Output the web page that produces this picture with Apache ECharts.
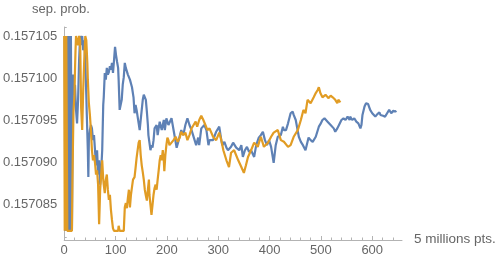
<!DOCTYPE html>
<html>
<head>
<meta charset="utf-8">
<script src="https://cdn.jsdelivr.net/npm/echarts@6/dist/echarts.min.js"></script>
<style>
html,body{margin:0;padding:0;background:#fff;}
#c{width:500px;height:264px;}
</style>
</head>
<body>
<div id="c"></div>
<script>
// Tick labels
const xTicks = [0, 100, 200, 300, 400, 500, 600];
const xMinorStep = 20;
const yTicks = [0.157085, 0.157090, 0.157095, 0.157100, 0.157105];
const yTickLabels = ['0.157085', '0.157090', '0.157095', '0.157100', '0.157105'];
const yMinorStep = 0.000001;
const xTitle = '5 millions pts.';
const yTitle = 'sep. prob.';

// Series 1 (blue): [x, value]
const blue = [[1,0.1571050],[2,0.1570818],[3,0.1571050],[5,0.1570818],[6,0.1571050],[8,0.1570818],[10,0.1571050],[12,0.1570818],[13,0.1571050],[15,0.1570818],[17,0.1571004],[19,0.1570980],[21,0.1570992],[23,0.1570962],[25,0.1570946],[27,0.1570974],[29,0.1571021],[31,0.1571050],[33,0.1571039],[35,0.1571050],[37,0.1571033],[39,0.1571045],[41,0.1571021],[43,0.1570980],[44,0.1570956],[46,0.1570914],[47,0.1570882],[48,0.1570926],[50,0.1570938],[52,0.1570944],[54,0.1570940],[56,0.1570926],[58,0.1570932],[60,0.1570914],[62,0.1570896],[64,0.1570914],[66,0.1570885],[68,0.1570902],[70,0.1570873],[72,0.1570890],[74,0.1570914],[76,0.1570968],[77,0.1570977],[79,0.1571006],[81,0.1570998],[83,0.1571012],[85,0.1571004],[87,0.1571007],[89,0.1571014],[91,0.1571010],[93,0.1571018],[95,0.1571006],[97,0.1571021],[99,0.1571037],[101,0.1571027],[103,0.1571019],[105,0.1571012],[106,0.1570998],[108,0.1570962],[110,0.1570964],[112,0.1570974],[114,0.1570992],[116,0.1571001],[118,0.1571018],[120,0.1571012],[122,0.1571010],[124,0.1571004],[126,0.1571001],[128,0.1570998],[132,0.1570989],[135,0.1570977],[137,0.1570958],[139,0.1570968],[141,0.1570962],[145,0.1570946],[147,0.1570938],[149,0.1570950],[151,0.1570962],[153,0.1570974],[155,0.1570980],[157,0.1570982],[159,0.1570974],[161,0.1570960],[163,0.1570944],[164,0.1570932],[166,0.1570923],[168,0.1570914],[170,0.1570920],[172,0.1570917],[174,0.1570926],[176,0.1570940],[180,0.1570944],[182,0.1570932],[186,0.1570948],[190,0.1570938],[194,0.1570950],[196,0.1570938],[199,0.1570952],[203,0.1570944],[209,0.1570952],[213,0.1570938],[219,0.1570917],[223,0.1570926],[228,0.1570938],[232,0.1570932],[236,0.1570944],[240,0.1570952],[244,0.1570944],[248,0.1570938],[254,0.1570926],[257,0.1570920],[261,0.1570929],[263,0.1570920],[267,0.1570940],[273,0.1570944],[277,0.1570938],[281,0.1570920],[283,0.1570926],[286,0.1570924],[290,0.1570926],[296,0.1570936],[302,0.1570942],[306,0.1570926],[308,0.1570920],[312,0.1570924],[316,0.1570917],[319,0.1570914],[325,0.1570918],[329,0.1570923],[335,0.1570917],[341,0.1570914],[345,0.1570920],[348,0.1570906],[352,0.1570914],[356,0.1570918],[360,0.1570912],[364,0.1570914],[370,0.1570906],[374,0.1570920],[379,0.1570929],[383,0.1570932],[387,0.1570936],[391,0.1570926],[395,0.1570920],[399,0.1570926],[403,0.1570918],[408,0.1570899],[412,0.1570920],[416,0.1570930],[422,0.1570932],[426,0.1570942],[428,0.1570938],[432,0.1570938],[436,0.1570946],[441,0.1570958],[445,0.1570960],[447,0.1570956],[451,0.1570950],[457,0.1570930],[461,0.1570924],[465,0.1570920],[470,0.1570914],[474,0.1570924],[476,0.1570929],[480,0.1570926],[484,0.1570924],[490,0.1570930],[496,0.1570942],[499,0.1570945],[503,0.1570950],[507,0.1570952],[509,0.1570951],[513,0.1570948],[519,0.1570944],[525,0.1570940],[528,0.1570936],[532,0.1570940],[536,0.1570945],[540,0.1570950],[544,0.1570952],[548,0.1570950],[552,0.1570954],[556,0.1570950],[557,0.1570954],[561,0.1570950],[565,0.1570952],[569,0.1570948],[573,0.1570946],[577,0.1570940],[579,0.1570944],[581,0.1570956],[585,0.1570966],[588,0.1570970],[592,0.1570969],[596,0.1570962],[600,0.1570958],[606,0.1570954],[610,0.1570957],[614,0.1570959],[616,0.1570956],[621,0.1570955],[625,0.1570954],[629,0.1570958],[633,0.1570962],[637,0.1570958],[641,0.1570961],[645,0.1570960],[647,0.1570961]];

// Series 2 (orange): [x, value]
const orange = [[0,0.1571050],[1,0.1570818],[2,0.1571050],[3,0.1570818],[4,0.1571050],[6,0.1570818],[10,0.1570818],[15,0.1570818],[16,0.1570879],[17,0.1570920],[18,0.1570960],[19,0.1570958],[20,0.1570980],[21,0.1571010],[22,0.1571033],[23,0.1571050],[25,0.1571050],[27,0.1571039],[29,0.1571050],[31,0.1571045],[33,0.1570964],[35,0.1570938],[37,0.1570986],[39,0.1571021],[41,0.1571050],[43,0.1571045],[45,0.1571018],[46,0.1570998],[48,0.1570970],[50,0.1570956],[52,0.1570938],[54,0.1570914],[56,0.1570902],[58,0.1570908],[60,0.1570899],[62,0.1570885],[64,0.1570890],[66,0.1570873],[68,0.1570826],[70,0.1570867],[72,0.1570885],[74,0.1570902],[76,0.1570879],[77,0.1570873],[79,0.1570863],[81,0.1570879],[83,0.1570885],[85,0.1570867],[87,0.1570855],[89,0.1570861],[91,0.1570843],[93,0.1570831],[95,0.1570821],[97,0.1570818],[101,0.1570818],[105,0.1570818],[106,0.1570824],[108,0.1570818],[112,0.1570818],[116,0.1570818],[118,0.1570846],[120,0.1570851],[122,0.1570845],[124,0.1570857],[126,0.1570867],[128,0.1570846],[130,0.1570861],[132,0.1570870],[134,0.1570879],[137,0.1570882],[139,0.1570893],[141,0.1570905],[143,0.1570914],[145,0.1570923],[147,0.1570926],[149,0.1570908],[151,0.1570896],[153,0.1570888],[155,0.1570879],[157,0.1570867],[159,0.1570860],[161,0.1570854],[163,0.1570867],[165,0.1570879],[166,0.1570861],[168,0.1570849],[170,0.1570837],[172,0.1570849],[174,0.1570861],[176,0.1570869],[178,0.1570873],[180,0.1570867],[182,0.1570879],[184,0.1570890],[186,0.1570902],[188,0.1570908],[190,0.1570902],[192,0.1570914],[194,0.1570902],[195,0.1570889],[197,0.1570908],[199,0.1570920],[201,0.1570929],[203,0.1570926],[205,0.1570920],[209,0.1570923],[213,0.1570926],[217,0.1570930],[221,0.1570924],[225,0.1570929],[228,0.1570936],[232,0.1570932],[236,0.1570935],[240,0.1570926],[244,0.1570932],[248,0.1570940],[252,0.1570944],[256,0.1570948],[259,0.1570942],[263,0.1570950],[267,0.1570955],[271,0.1570950],[275,0.1570944],[279,0.1570938],[283,0.1570940],[290,0.1570930],[296,0.1570926],[302,0.1570935],[306,0.1570926],[310,0.1570914],[316,0.1570902],[321,0.1570894],[325,0.1570911],[331,0.1570914],[339,0.1570902],[345,0.1570894],[350,0.1570887],[354,0.1570896],[358,0.1570906],[364,0.1570914],[370,0.1570923],[377,0.1570918],[383,0.1570930],[389,0.1570918],[397,0.1570923],[403,0.1570930],[408,0.1570935],[416,0.1570938],[422,0.1570926],[428,0.1570924],[436,0.1570918],[441,0.1570920],[447,0.1570930],[455,0.1570938],[461,0.1570950],[466,0.1570962],[470,0.1570958],[474,0.1570974],[480,0.1570970],[486,0.1570977],[490,0.1570982],[494,0.1570986],[496,0.1570989],[499,0.1570982],[503,0.1570977],[509,0.1570980],[515,0.1570976],[519,0.1570979],[523,0.1570977],[528,0.1570974],[532,0.1570970],[534,0.1570974],[538,0.1570971]];

const X_MIN = 0, X_MAX = 658;
const Y_MIN = 0.15708071, Y_MAX = 0.15710607;

const xMinor = [];
for (let v = 0; v <= X_MAX; v += xMinorStep) xMinor.push(v);
const yMinor = [];
for (let k = 81; k <= 106; k++) yMinor.push(+(0.157 + k * yMinorStep).toFixed(7));

const axisGray = '#b3b3b3';
const labelGray = '#666666';
const FONT = 'Liberation Sans';

const chart = echarts.init(document.getElementById('c'), null, {renderer: 'canvas'});
chart.setOption({
  animation: false,
  backgroundColor: '#ffffff',
  grid: {left: 62, right: 98, top: 27, bottom: 24, containLabel: false},
  xAxis: [{
    type: 'value', min: X_MIN, max: X_MAX,
    axisLine: {show: true, lineStyle: {color: axisGray, width: 1}},
    axisTick: {show: true, inside: true, length: 4, lineStyle: {color: axisGray}, customValues: xTicks},
    axisLabel: {show: true, customValues: xTicks, color: labelGray, fontFamily: FONT, fontSize: 13, margin: 4,
      formatter: v => String(Math.round(v))},
    splitLine: {show: false}
  }, {
    type: 'value', min: X_MIN, max: X_MAX, position: 'bottom',
    axisLine: {show: false},
    axisTick: {show: true, inside: true, length: 2.5, lineStyle: {color: axisGray}, customValues: xMinor},
    axisLabel: {show: false},
    splitLine: {show: false}
  }],
  yAxis: [{
    type: 'value', min: Y_MIN, max: Y_MAX,
    axisLine: {show: true, lineStyle: {color: axisGray, width: 1}},
    axisTick: {show: true, inside: true, length: 4, lineStyle: {color: axisGray}, customValues: yTicks},
    axisLabel: {show: true, customValues: yTicks, color: labelGray, fontFamily: FONT, fontSize: 13, margin: 7,
      formatter: v => { const i = yTicks.findIndex(t => Math.abs(t - v) < 1e-9); return i >= 0 ? yTickLabels[i] : ''; }},
    splitLine: {show: false}
  }, {
    type: 'value', min: Y_MIN, max: Y_MAX, position: 'left',
    axisLine: {show: false},
    axisTick: {show: true, inside: true, length: 2.5, lineStyle: {color: axisGray}, customValues: yMinor},
    axisLabel: {show: false},
    splitLine: {show: false}
  }],
  graphic: [
    {type: 'text', left: 32, top: 3, style: {text: yTitle, fill: labelGray, font: '13px "Liberation Sans"'}},
    {type: 'text', left: 414, top: 232, style: {text: xTitle, fill: labelGray, font: '13.5px "Liberation Sans"'}}
  ],
  series: [{
    type: 'line', xAxisIndex: 0, yAxisIndex: 0, data: blue, showSymbol: false, clip: true,
    lineStyle: {color: '#5e81b5', width: 2.2}, itemStyle: {color: '#5e81b5'}
  }, {
    type: 'line', xAxisIndex: 0, yAxisIndex: 0, data: orange, showSymbol: false, clip: true,
    lineStyle: {color: '#e19c24', width: 2.2}, itemStyle: {color: '#e19c24'}
  }]
});
</script>
</body>
</html>
